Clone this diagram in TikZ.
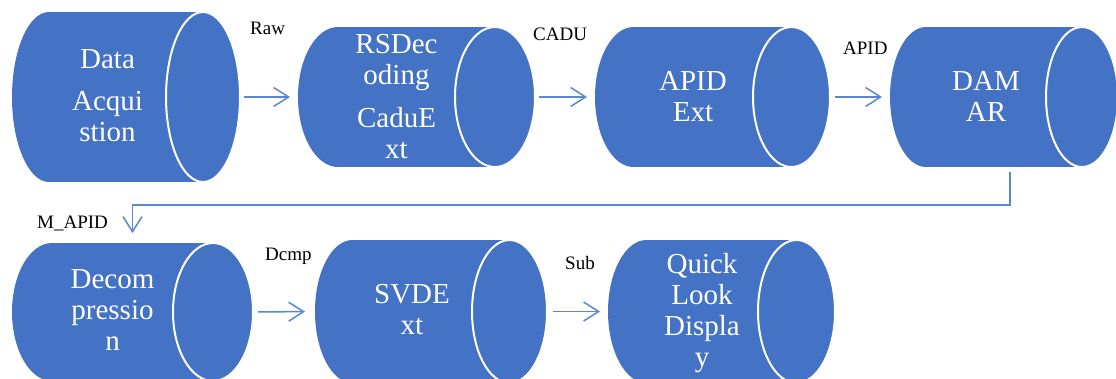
\documentclass[tikz,border=0pt]{standalone}
\usepackage{fontspec}
\setmainfont{Liberation Serif}
\usetikzlibrary{arrows.meta}
\definecolor{cylblue}{HTML}{4472C4}
\definecolor{arrowblue}{HTML}{5A86D2}
\tikzset{
  cylbox/.style={rectangle, inner sep=0pt, outer sep=0pt, draw=none},
  cylfill/.style={fill=cylblue},
  cyltext/.style={text=white, align=center, inner sep=0pt, anchor=north,
    font=\fontsize{29}{31}\selectfont},
  lbl/.style={text=black, inner sep=0pt, anchor=base west, font=\fontsize{19}{22}\selectfont},
  arr/.style={draw=arrowblue, line width=1.5pt, -{Straight Barb[length=15pt,width=19pt,line width=1.5pt]}},
}
\newcommand\cylshape[6]{%
  \node[cylbox, minimum width={#4-#2}, minimum height={#5-#3}] (#1) at ({(#2+#4)/2},{(#3+#5)/2}) {};
  \fill[cylfill] ({#2+#6},#3) -- ({#4-#6},#3) -- ({#4-#6},#5) -- ({#2+#6},#5) -- cycle;
  \fill[cylfill] ({#2+#6},{(#3+#5)/2}) ellipse [x radius=#6, y radius={(#5-#3)/2}];
  \filldraw[cylfill, draw=white, line width=2pt] ({#4-#6},{(#3+#5)/2}) ellipse [x radius=#6, y radius={(#5-#3)/2}];
}
\begin{document}
\begin{tikzpicture}[x=1pt, y=-1pt]
\useasboundingbox (0,0) rectangle (1116,378);
\clip (0,0) rectangle (1116,378);
% cylinders
\cylshape{c1}{12}{12}{240}{182}{37}
\cylshape{c2}{298}{27}{535}{167}{40}
\cylshape{c3}{595}{27}{830}{167}{38.5}
\cylshape{c4}{890}{27}{1118}{167}{36}
\cylshape{c5}{12}{243}{253}{381}{40}
\cylshape{c6}{315}{240}{547}{383}{37.5}
\cylshape{c7}{608}{240}{835}{383}{38.5}
% texts
\node[cyltext] (t1) at (107.5,46.3) {\strut Data\\[11pt]\strut Acqui\\\strut stion};
\node[cyltext] (t2) at (396.5,31.3) {\strut RSDec\\\strut oding\\[12pt]\strut CaduE\\\strut xt};
\node[cyltext] (t3) at (693,68.3) {\strut APID\\\strut Ext};
\node[cyltext] (t4) at (986,68.3) {\strut DAM\\\strut AR};
\node[cyltext] (t5) at (112.5,266.3) {\strut Decom\\\strut pressio\\\strut n};
\node[cyltext] (t6) at (412,281.3) {\strut SVDE\\\strut xt};
\node[cyltext] (t7) at (702,251.3) {\strut Quick\\\strut Look\\\strut Displa\\\strut y};
% labels
\node[lbl] (lraw) at (250,34) {Raw};
\node[lbl] (lcadu) at (533,40) {CADU};
\node[lbl] (lapid) at (843,54) {APID};
\node[lbl] (lmapid) at (37,228) {M\_APID};
\node[lbl] (ldcmp) at (265,260) {Dcmp};
\node[lbl] (lsub) at (565,269) {Sub};
% connectors
\draw[arr, shorten <=4pt, shorten >=8pt] (c1.east) -- (c2.west);
\draw[arr, shorten <=4pt, shorten >=8pt] (c2.east) -- (c3.west);
\draw[arr, shorten <=5pt, shorten >=8pt] (c3.east) -- (c4.west);
\draw[arr, shorten <=5pt, shorten >=10pt] (c5.east) -- (c6.west);
\draw[arr, shorten <=6pt, shorten >=8pt] (c6.east) -- (c7.west);
\coordinate (d1) at (1010,172);
\coordinate (bend) at (1010,205);
\draw[arr, shorten >=10pt] (d1) -- (bend) -| (c5.north);
\end{tikzpicture}
\end{document}
